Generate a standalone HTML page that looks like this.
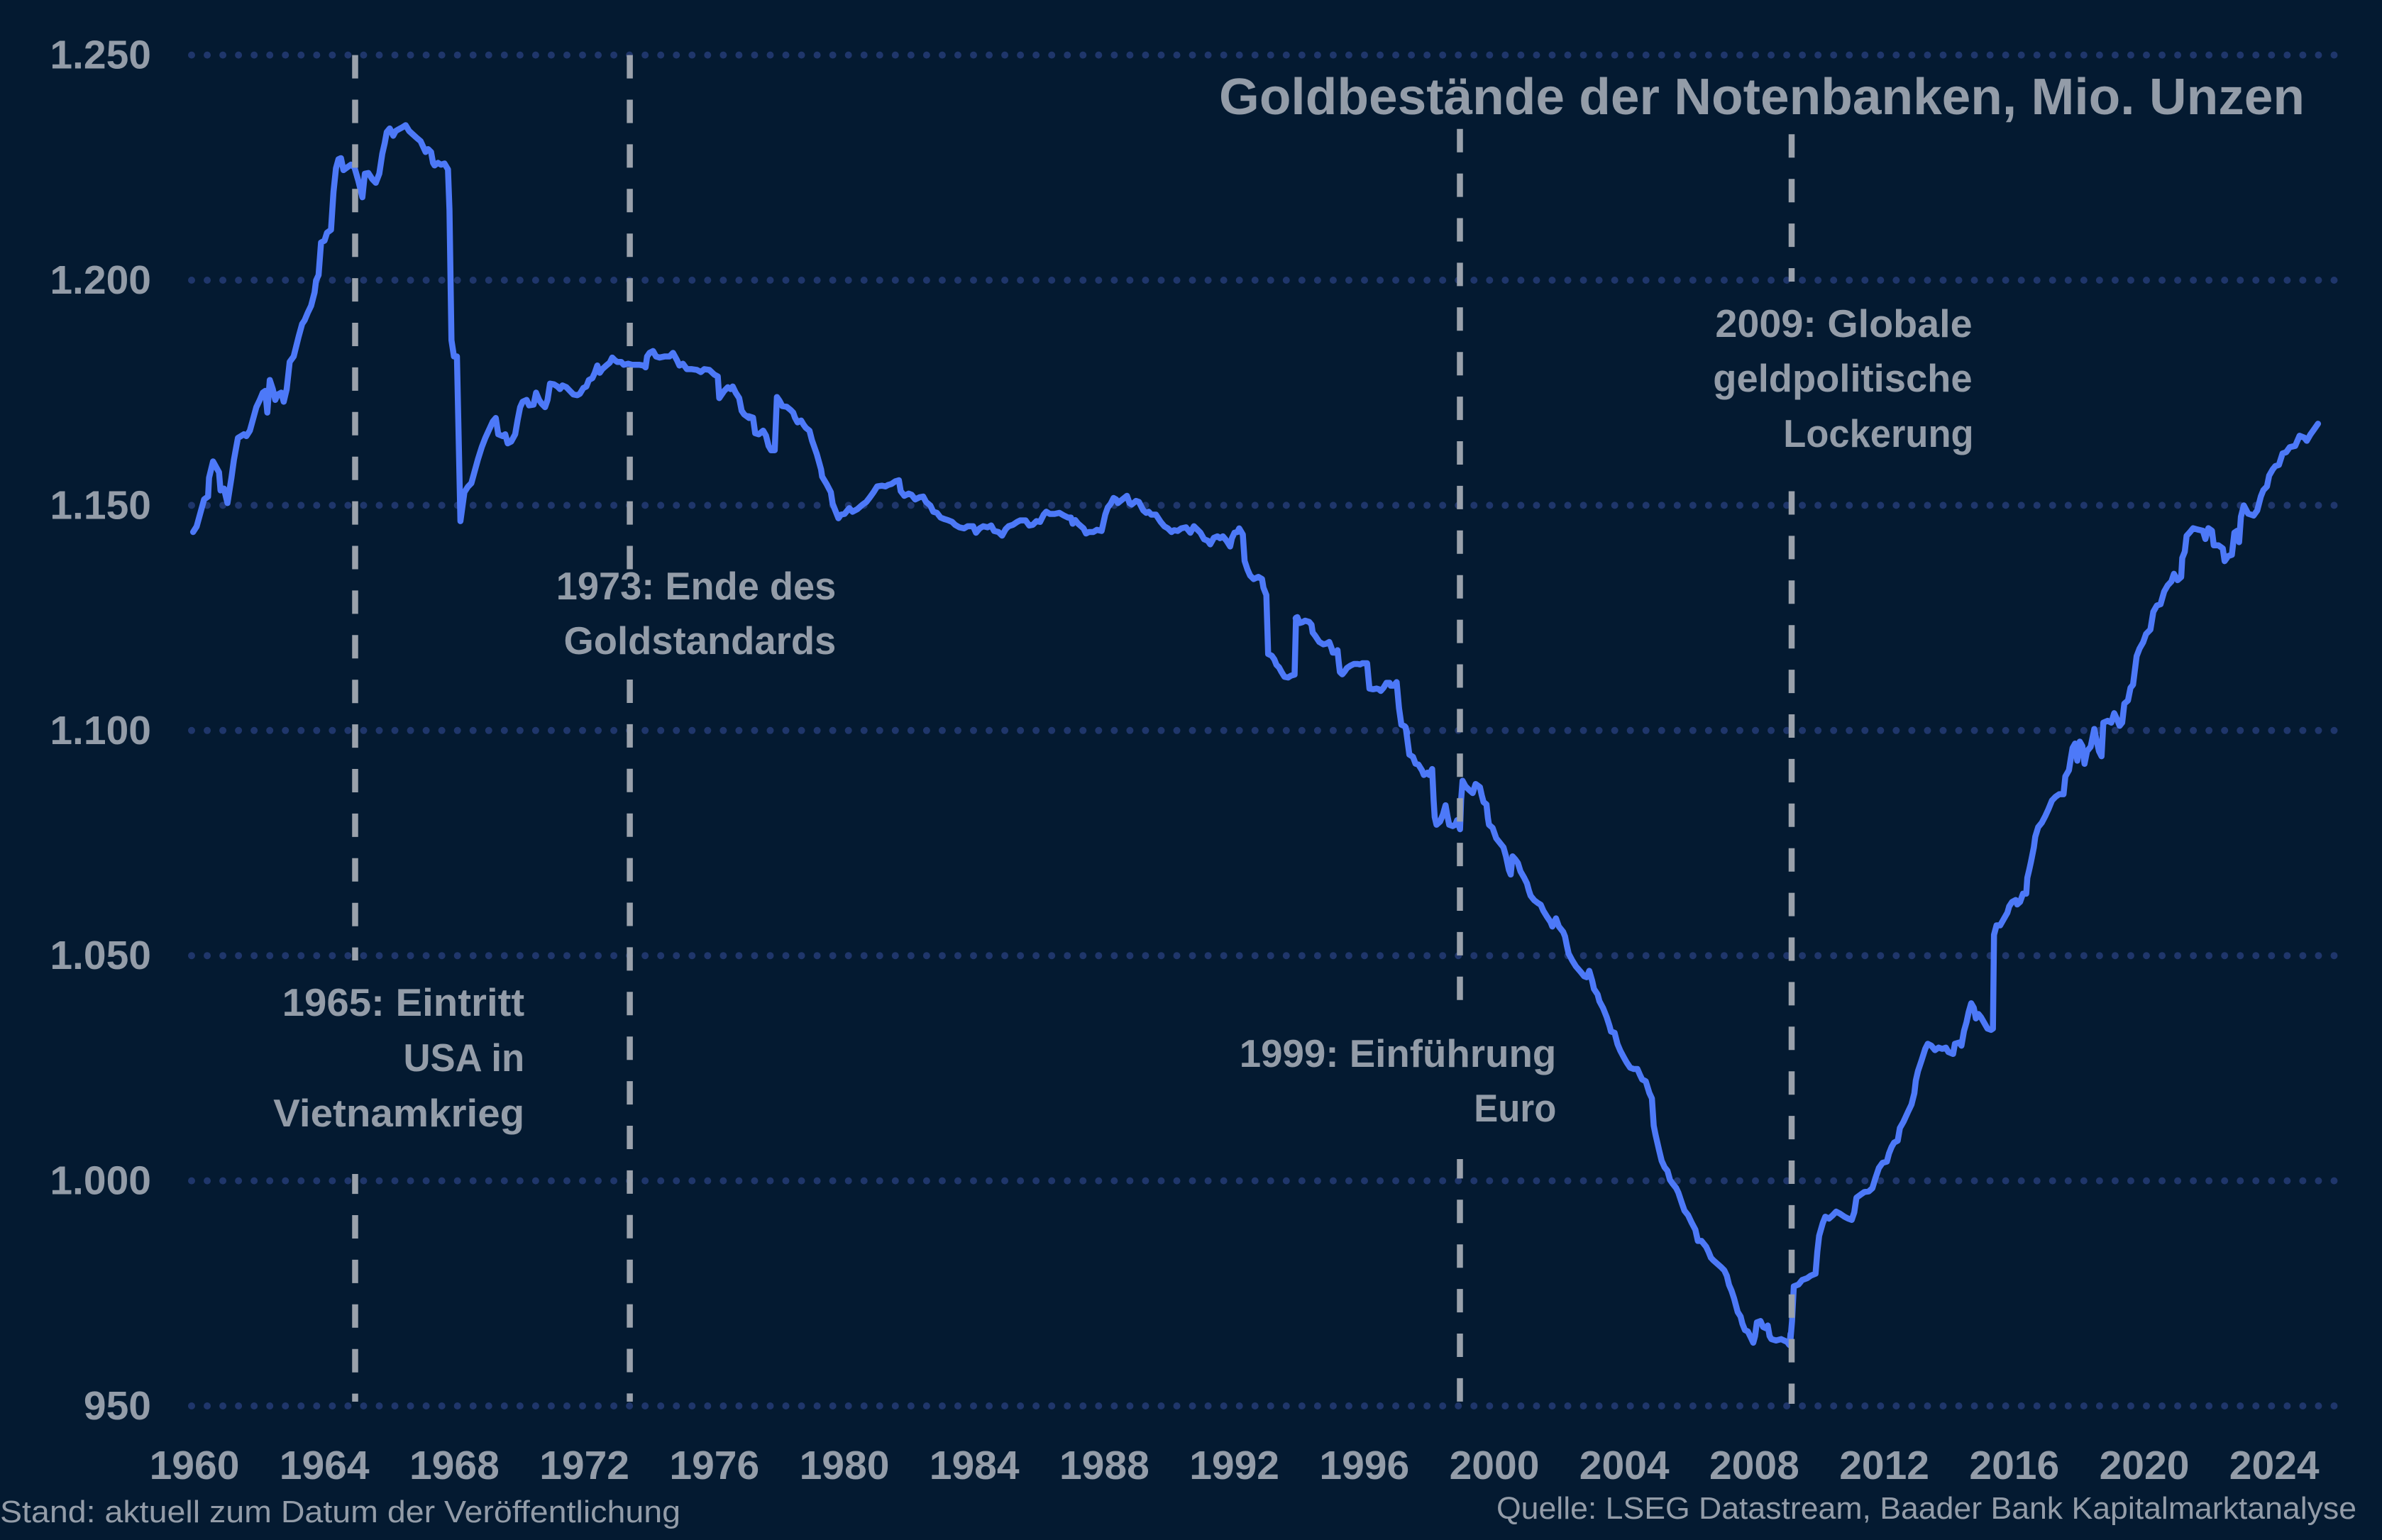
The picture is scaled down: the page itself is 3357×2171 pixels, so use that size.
<!DOCTYPE html>
<html>
<head>
<meta charset="utf-8">
<style>
  html, body { margin:0; padding:0; background:#041a31; }
  body { width:3357px; height:2171px; overflow:hidden; }
  svg { display:block; }
  .ax { font-family:"Liberation Sans", sans-serif; font-weight:bold; font-size:57px; fill:#939ca8; }
  .ann { font-family:"Liberation Sans", sans-serif; font-weight:bold; font-size:55px; fill:#939ca8; }
  .ttl { font-family:"Liberation Sans", sans-serif; font-weight:bold; font-size:72px; fill:#939ca8; }
  .ft { font-family:"Liberation Sans", sans-serif; font-size:44px; fill:#939ca8; }
  .data { fill:none; stroke:#4d79f8; stroke-width:8.5; stroke-linejoin:round; stroke-linecap:round; }
</style>
</head>
<body>
<svg width="3357" height="2171" viewBox="0 0 3357 2171" xmlns="http://www.w3.org/2000/svg">
  <rect x="0" y="0" width="3357" height="2171" fill="#041a31"/>

  <!-- dotted gridlines -->
  <g stroke="#1f366b" stroke-width="10" stroke-linecap="round" stroke-dasharray="0 22.04">
    <line x1="270" y1="77.6" x2="3292" y2="77.6"/>
    <line x1="270" y1="395" x2="3292" y2="395"/>
    <line x1="270" y1="712.4" x2="3292" y2="712.4"/>
    <line x1="270" y1="1029.8" x2="3292" y2="1029.8"/>
    <line x1="270" y1="1347.2" x2="3292" y2="1347.2"/>
    <line x1="270" y1="1664.6" x2="3292" y2="1664.6"/>
    <line x1="270" y1="1982" x2="3292" y2="1982"/>
  </g>

  <!-- data line -->
  <g>
    <polyline class="data" vector-effect="non-scaling-stroke" transform="matrix(0.7015 0 0 0.5102 0 0)" points="388,1470 395,1455 410,1380 418,1372 420,1320 428,1275 440,1305 443,1355 450,1350 457,1390 465,1320 470,1270 478,1210 490,1200 495,1205 502,1190 510,1150 515,1125 522,1105 528,1085 533,1080 537,1140 542,1050 548,1075 553,1105 558,1090 565,1085 570,1110 576,1075 582,1000 590,985 600,930 607,895 612,885 618,865 625,845 632,808 635,775 640,760 645,670 652,665 657,643 665,635 670,530 675,465 680,440 685,437 690,470 698,462 705,455 712,462 720,500 728,545 733,480 740,478 748,495 755,505 762,480 768,425 773,395 777,365 783,355 790,375 795,362 800,358 808,352 815,346 822,362 830,372 838,382 845,390 850,405 855,420 860,412 866,420 870,450 873,457 880,450 886,455 893,452 900,468 903,580 907,940 912,985 918,985 925,1440 933,1360 940,1345 947,1335 952,1310 960,1270 968,1235 975,1210 980,1195 985,1180 990,1165 996,1155 1001,1200 1010,1205 1015,1200 1020,1225 1027,1220 1035,1200 1040,1160 1045,1125 1050,1110 1058,1105 1063,1120 1072,1118 1077,1085 1083,1105 1088,1115 1095,1125 1100,1105 1105,1060 1113,1062 1120,1068 1125,1075 1130,1065 1138,1070 1145,1080 1152,1090 1160,1092 1165,1088 1172,1072 1178,1068 1183,1050 1190,1045 1195,1030 1200,1010 1205,1030 1210,1020 1218,1010 1225,1002 1230,988 1235,995 1240,1000 1248,1000 1253,1008 1262,1005 1270,1008 1285,1008 1293,1010 1297,1015 1300,985 1305,975 1312,970 1318,985 1325,988 1335,985 1345,985 1352,975 1360,995 1365,1010 1372,1005 1380,1020 1390,1020 1400,1022 1408,1028 1415,1020 1425,1022 1435,1035 1442,1040 1445,1100 1450,1090 1455,1080 1462,1070 1468,1075 1472,1068 1478,1085 1485,1100 1490,1135 1495,1145 1505,1155"/>
    <polyline class="data" vector-effect="non-scaling-stroke" transform="matrix(0.5102 0 0 0.5102 1050 450)" points="10,268 22,272 28,315 38,318 50,308 58,322 65,350 72,362 82,362 88,215 95,225 103,240 115,242 125,250 133,258 138,272 145,285 155,280 162,292 168,300 178,308 185,335 198,372 210,415 213,435 225,455 237,478 242,510 250,530 258,550 265,540 275,538 288,522 297,532 310,525 325,512 335,505 345,492 355,478 365,462 378,460 388,462 395,458 405,455 415,448 425,445 430,475 440,488 452,482 460,485 470,498 482,492 492,490 500,505 512,515 520,532 530,535 540,548 550,552 560,555 572,560 580,568 592,575 605,578 615,572 630,572 638,590 648,578 658,572 670,575 680,570 688,585 700,588 710,598 720,580 728,572 740,568 752,560 760,556 775,556 785,570 795,568 805,558 815,560 825,540 832,532 842,538 855,538 868,535 880,542 892,548 900,548 905,565 912,555 920,565 935,578 942,592 950,588 962,588 972,582 985,585 995,540 1002,520 1010,510 1018,494 1025,498 1030,508 1040,500 1055,488 1062,508 1068,512 1080,502 1088,505 1100,528 1108,535 1115,532 1122,540 1135,540 1148,560 1158,572 1168,578 1178,588 1185,583 1195,585 1205,578 1218,575 1230,590 1240,572 1250,582 1258,590 1268,608 1278,612 1285,622 1295,604 1305,600 1312,605 1320,600 1330,612 1340,628 1345,605 1352,590 1360,588 1365,578 1375,595 1380,668 1388,692 1395,708 1405,718 1418,712 1428,718 1432,742 1440,762 1445,925 1455,930 1462,940 1468,955 1475,962 1482,975 1490,988 1500,990 1508,985 1518,982 1522,825"/>
    <polyline class="data" vector-effect="non-scaling-stroke" transform="matrix(0.33333 0 0 0.33333 1780 820)" points="138,155 145,150 155,175 165,172 178,165 195,170 205,182 210,215 220,228 228,240 238,255 255,265 268,262 280,255 290,282 295,300 305,300 315,290 320,340 325,382 335,392 345,380 355,365 370,355 385,348 400,348 410,350 420,345 440,345 445,400 450,452 465,455 480,452 490,455 498,462 510,448 522,428 535,428 540,440 552,440 565,425 575,535 585,605 600,612 610,640"/>
    <polyline class="data" vector-effect="non-scaling-stroke" transform="matrix(0.5102 0 0 0.6378 1800 1000)" points="355,40 365,100 375,105 382,120 390,122 400,135 405,145 415,140 420,145 428,132 432,200 435,238 440,255 450,248 458,232 465,212 470,235 475,255 485,258 492,255 497,245 505,265 508,200 512,158 520,170 530,178 540,185 548,165 560,172 565,190 570,205 578,210 582,240 585,255 595,262 605,285 612,292 625,305 632,325 640,355 645,365 650,325 658,332 665,340 672,358 682,372 690,385 695,400 700,412 710,422 720,428 728,432 735,445 745,458 755,470 760,480 770,462 778,480 790,492 795,502 800,522 805,540 815,555 825,568 838,580 848,590 855,592 862,578 870,600 875,618 885,630 890,645 900,660 910,680 918,700 922,712 932,715 940,740 948,755 958,770 965,780 975,792 985,795 995,795 1002,808 1008,818 1018,822 1028,848 1035,860 1040,920 1045,940 1055,975 1062,998 1070,1012 1078,1020 1085,1040 1092,1048 1102,1058 1108,1068 1118,1092 1125,1108 1135,1118 1145,1135 1155,1150 1162,1175 1172,1175 1185,1188 1192,1200 1198,1212 1205,1218 1215,1225 1225,1232 1235,1240 1242,1252 1248,1272 1255,1285 1262,1302 1268,1320 1272,1332 1280,1342 1285,1358 1292,1372 1300,1375 1308,1388 1315,1400 1320,1385 1325,1355 1335,1352 1342,1365 1350,1368 1355,1362 1360,1385 1365,1392 1378,1395 1392,1392 1400,1395 1408,1398 1415,1405 1418,1380"/>
    <polyline class="data" vector-effect="non-scaling-stroke" transform="matrix(0.5102 0 0 0.8929 2500 550)" points="38,1502 45,1505 50,1470 55,1415 68,1412 78,1405 92,1402 102,1398 115,1395 120,1360 125,1335 135,1315 142,1305 152,1308 162,1303 172,1297 182,1300 195,1305 205,1308 215,1310 222,1298 228,1275 240,1270 250,1266 262,1265 272,1260 280,1245 290,1228 300,1220 312,1218 318,1205 325,1195 332,1188 342,1185 348,1165 358,1155 370,1140 380,1128 388,1110 392,1090 398,1075 408,1058 418,1040 425,1032 435,1035 445,1042 455,1038 465,1040 475,1038 482,1045 495,1048 500,1032 512,1030 518,1035 525,1012 532,998 538,982 545,968 552,975 558,992 565,985 572,990 580,998 590,1008 600,1010 605,1008 608,860 615,845 625,845 635,835 645,825 650,815 658,808 668,805 672,812 680,808 688,795 697,795 700,770 705,758 710,745 718,722 722,705 730,690 740,683 750,672 758,662 768,648 778,642 788,638 800,638 805,610 815,600 820,582 825,565 832,558 838,585 845,555 852,562 858,590 865,570 875,563 885,535 892,555 898,570 905,578 910,525 922,522 932,525 940,510 948,520 955,530 962,525 968,495 978,490 985,470 992,465 1002,420 1010,408 1020,398 1028,385 1040,378 1048,350 1058,340 1068,338 1078,318 1088,308 1098,302 1105,290 1115,300 1125,295 1128,265 1135,255 1140,230 1148,225 1158,218 1170,220 1185,222 1192,235 1200,218 1210,222 1215,245 1228,245 1240,250 1245,270 1255,262 1265,260 1272,225 1280,222 1285,240 1290,200 1298,182 1310,195 1325,198 1335,190 1345,168 1352,158 1362,152 1368,135 1378,125 1385,120 1395,118 1405,100 1415,98 1425,90 1440,88 1452,72 1465,75 1472,80 1482,70 1492,62 1503,53"/>
  </g>

  <!-- dashed event lines -->
  <g stroke="#9aa1ab" stroke-width="8.5" stroke-dasharray="33 29.9" fill="none">
    <line x1="500.5" y1="77.6" x2="500.5" y2="1354"/>
    <line x1="500.5" y1="1655" x2="500.5" y2="1976" stroke-dashoffset="4.9"/>
    <line x1="887.6" y1="77.6" x2="887.6" y2="804.5"/>
    <line x1="887.6" y1="958" x2="887.6" y2="1976" stroke-dashoffset="0"/>
    <line x1="2057.5" y1="181.7" x2="2057.5" y2="1413.5"/>
    <line x1="2057.5" y1="1634" x2="2057.5" y2="1979" stroke-dashoffset="5.6"/>
    <line x1="2525" y1="189.3" x2="2525" y2="397"/>
    <line x1="2525" y1="690" x2="2525" y2="1979" stroke-dashoffset="60.4"/>
  </g>

  <!-- y axis labels -->
  <g class="ax" text-anchor="end">
    <text x="213" y="96.6">1.250</text>
    <text x="213" y="414">1.200</text>
    <text x="213" y="731.4">1.150</text>
    <text x="213" y="1048.8">1.100</text>
    <text x="213" y="1366.2">1.050</text>
    <text x="213" y="1683.6">1.000</text>
    <text x="213" y="2001">950</text>
  </g>

  <!-- x axis labels -->
  <g class="ax" text-anchor="middle">
    <text x="274" y="2085">1960</text>
    <text x="457.2" y="2085">1964</text>
    <text x="640.4" y="2085">1968</text>
    <text x="823.6" y="2085">1972</text>
    <text x="1006.8" y="2085">1976</text>
    <text x="1190" y="2085">1980</text>
    <text x="1373.2" y="2085">1984</text>
    <text x="1556.4" y="2085">1988</text>
    <text x="1739.6" y="2085">1992</text>
    <text x="1922.8" y="2085">1996</text>
    <text x="2106" y="2085">2000</text>
    <text x="2289.2" y="2085">2004</text>
    <text x="2472.4" y="2085">2008</text>
    <text x="2655.6" y="2085">2012</text>
    <text x="2838.8" y="2085">2016</text>
    <text x="3022" y="2085">2020</text>
    <text x="3205.2" y="2085">2024</text>
  </g>

  <!-- title -->
  <text class="ttl" x="1718" y="161" textLength="1530" lengthAdjust="spacingAndGlyphs">Goldbestände der Notenbanken, Mio. Unzen</text>

  <!-- annotations -->
  <g class="ann">
    <text x="783.7" y="845" textLength="394.6" lengthAdjust="spacingAndGlyphs">1973: Ende des</text>
    <text x="794.5" y="922" textLength="383.8" lengthAdjust="spacingAndGlyphs">Goldstandards</text>

    <text x="397.7" y="1432" textLength="341.5" lengthAdjust="spacingAndGlyphs">1965: Eintritt</text>
    <text x="568.5" y="1510" textLength="170.7" lengthAdjust="spacingAndGlyphs">USA in</text>
    <text x="385.2" y="1588" textLength="354" lengthAdjust="spacingAndGlyphs">Vietnamkrieg</text>

    <text x="1746.7" y="1504" textLength="446.6" lengthAdjust="spacingAndGlyphs">1999: Einführung</text>
    <text x="2077.3" y="1581" textLength="116" lengthAdjust="spacingAndGlyphs">Euro</text>

    <text x="2417.4" y="475" textLength="362.2" lengthAdjust="spacingAndGlyphs">2009: Globale</text>
    <text x="2414.3" y="552" textLength="365.3" lengthAdjust="spacingAndGlyphs">geldpolitische</text>
    <text x="2513.3" y="630" textLength="268.3" lengthAdjust="spacingAndGlyphs">Lockerung</text>
  </g>

  <!-- footer -->
  <text class="ft" x="0" y="2146" textLength="959" lengthAdjust="spacingAndGlyphs">Stand: aktuell zum Datum der Veröffentlichung</text>
  <text class="ft" x="2109" y="2141" textLength="1212" lengthAdjust="spacingAndGlyphs">Quelle: LSEG Datastream, Baader Bank Kapitalmarktanalyse</text>
</svg>
</body>
</html>
